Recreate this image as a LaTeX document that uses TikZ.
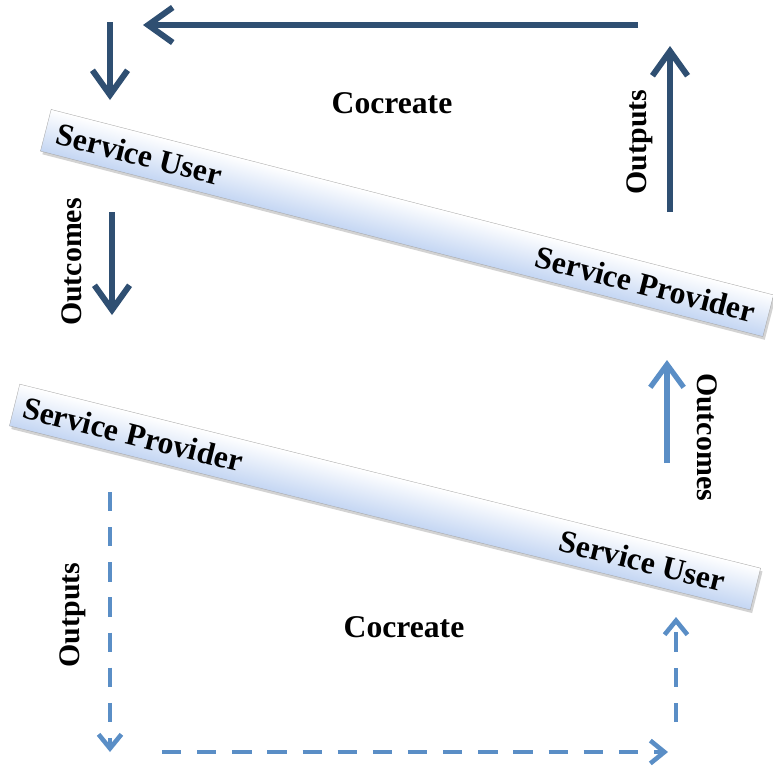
\documentclass[tikz,border=0pt]{standalone}
\usepackage{fontspec}
\setmainfont{Liberation Serif}
\usetikzlibrary{arrows.meta,shadows,calc}
\definecolor{darkblue}{RGB}{47,79,114}
\definecolor{lightblue}{RGB}{90,142,198}
\definecolor{barblue}{RGB}{196,214,243}

\tikzset{
  bar/.style={draw=gray!70, very thin, top color=white, bottom color=barblue,
    minimum height=0.86cm, inner sep=0pt,
    drop shadow={opacity=0.35, shadow xshift=1.5pt, shadow yshift=-1.5pt}},
  bartext/.style={font=\bfseries\fontsize{18}{20}\selectfont},
  sidetext/.style={font=\bfseries\fontsize{17}{19}\selectfont},
  flow/.style={darkblue, line width=3.4pt, -{Straight Barb[length=14pt,width=20pt]}},
  giveback/.style={lightblue, line width=3pt, -{Straight Barb[length=13pt,width=19pt]}},
  loopback/.style={lightblue, line width=2.6pt, dash pattern=on 11pt off 9pt,
    -{Straight Barb[length=8pt,width=13pt]}},
}

\begin{document}
\begin{tikzpicture}[x=0.02cm, y=-0.02cm]
		\useasboundingbox (0,0) rectangle (773,769);
		
		% upper bar, turned as a whole so its shading follows it
		\begin{scope}[transform canvas={shift={(407,223)}, rotate=-14.4}]
		\node[bar, minimum width=14.92cm] (upper) at (0,0) {};
		\node[bartext] (user1) at ($(upper.west)!0.13!(upper.east)$) {Service User};
		\node[bartext] (prov1) at ($(upper.west)!0.83!(upper.east)$) {Service Provider};
		\end{scope}
		
		% lower bar
		\begin{scope}[transform canvas={shift={(385,497)}, rotate=-13.95}]
		\node[bar, minimum width=15.27cm] (lower) at (0,0) {};
		\node[bartext] (prov2) at ($(lower.west)!0.16!(lower.east)$) {Service Provider};
		\node[bartext] (user2) at ($(lower.west)!0.847!(lower.east)$) {Service User};
		\end{scope}
		
		% labels
		\node[bartext] (co1) at (392,103) {Cocreate};
		\node[bartext] (co2) at (404,627) {Cocreate};
		\node[sidetext, rotate=90] (outc1) at (72,262) {Outcomes};
		\node[sidetext, rotate=90] (outp1) at (640,142) {Outputs};
		\node[sidetext, rotate=-90] (outc2) at (707,437) {Outcomes};
		\node[sidetext, rotate=90] (outp2) at (73,615) {Outputs};
		
		% arrow ends
		\coordinate (t1) at (638,25);  \coordinate (t2) at (143,25);
		\coordinate (d1) at (110,22);  \coordinate (d2) at (110,100);
		\coordinate (o1) at (112,212); \coordinate (o2) at (112,315);
		\coordinate (p1) at (670,212); \coordinate (p2) at (670,46);
		\coordinate (r1) at (667,463); \coordinate (r2) at (667,360);
		\coordinate (s1) at (110,492); \coordinate (s2) at (110,752);
		\coordinate (h1) at (162,752); \coordinate (h2) at (668,752);
		\coordinate (u1) at (676,722); \coordinate (u2) at (676,617);
		
		\draw[flow] (t1) -- (t2);
		\draw[flow] (d1) -- (d2);
		\draw[flow] (o1) -- (o2);
		\draw[flow] (p1) -- (p2);
		\draw[giveback] (r1) -- (r2);
		\draw[loopback] (s1) -- (s2);
		\draw[loopback] (h1) -- (h2);
		\draw[loopback] (u1) -- (u2);
		
\end{tikzpicture}
\end{document}
